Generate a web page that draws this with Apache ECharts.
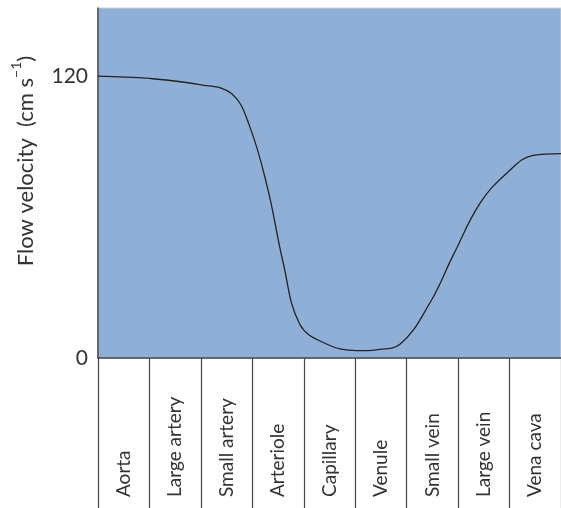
<!DOCTYPE html>
<html>
<head>
<meta charset="utf-8">
<script src="https://cdn.jsdelivr.net/npm/echarts@6/dist/echarts.min.js"></script>
<style>html,body{margin:0;padding:0;background:#fff}#c{width:561px;height:508px}</style>
</head>
<body>
<div id="c"></div>
<script>
const categories = ['Aorta','Large artery','Small artery','Arteriole','Capillary','Venule','Small vein','Large vein','Vena cava'];
// position along the vessel sequence (0 = left edge of Aorta, 9 = right edge of Vena cava)
const positions = [0, 1, 1.98, 2.6, 2.95, 3.3, 3.6, 3.92, 4.4, 5.03, 5.41, 5.87, 6.45, 6.91, 7.43, 7.95, 8.46, 9];
const velocities = [120, 119, 116.4, 112.5, 98.5, 72, 40.5, 14.5, 6.4, 3.1, 3.5, 5.9, 23.4, 44, 66, 78.8, 86.3, 87];
const yTickLabels = [0, 120];

const font = 'Lato, "Noto Sans", sans-serif';
const chart = echarts.init(document.getElementById('c'), null, {renderer: 'canvas'});
chart.setOption({
  animation: false,
  grid: {left: 98, right: 0, top: 8, bottom: 150, show: true, backgroundColor: '#8fafd6', borderColor: '#cfcfcf', borderWidth: 1},
  xAxis: [
    {type: 'value', min: 0, max: 9, show: false},
    {type: 'category', data: categories, boundaryGap: true, position: 'bottom',
     axisLine: {show: true, lineStyle: {color: '#444', width: 1.5}},
     axisTick: {show: true, length: 150, lineStyle: {color: '#444', width: 1.2}},
     axisLabel: {rotate: 90, margin: 139, align: 'left', verticalAlign: 'middle', color: '#333', fontSize: 19, fontFamily: font}}
  ],
  yAxis: {type: 'value', min: 0, max: 149, interval: 120,
    axisLine: {show: true, lineStyle: {color: '#444', width: 1.5}},
    axisTick: {show: false}, splitLine: {show: false},
    axisLabel: {margin: 10, color: '#333', fontSize: 21, fontFamily: font,
      formatter: v => yTickLabels.indexOf(v) >= 0 ? String(v) : ''},
    name: '{a|Flow velocity  (cm s}{s|−1}{a|)}', nameLocation: 'middle', nameGap: 61, nameRotate: 90,
    nameTextStyle: {padding: [0, 0, 0, 44], rich: {
      a: {fontSize: 22, color: '#333', fontFamily: font, lineHeight: 28, verticalAlign: 'bottom'},
      s: {fontSize: 14, color: '#333', fontFamily: font, lineHeight: 17, verticalAlign: 'top'}
    }}
  },
  series: [{type: 'line', xAxisIndex: 0, data: positions.map((p, i) => [p, velocities[i]]),
    smooth: 0.4, showSymbol: false, lineStyle: {color: '#222', width: 1.3}}]
});
</script>
</body>
</html>
